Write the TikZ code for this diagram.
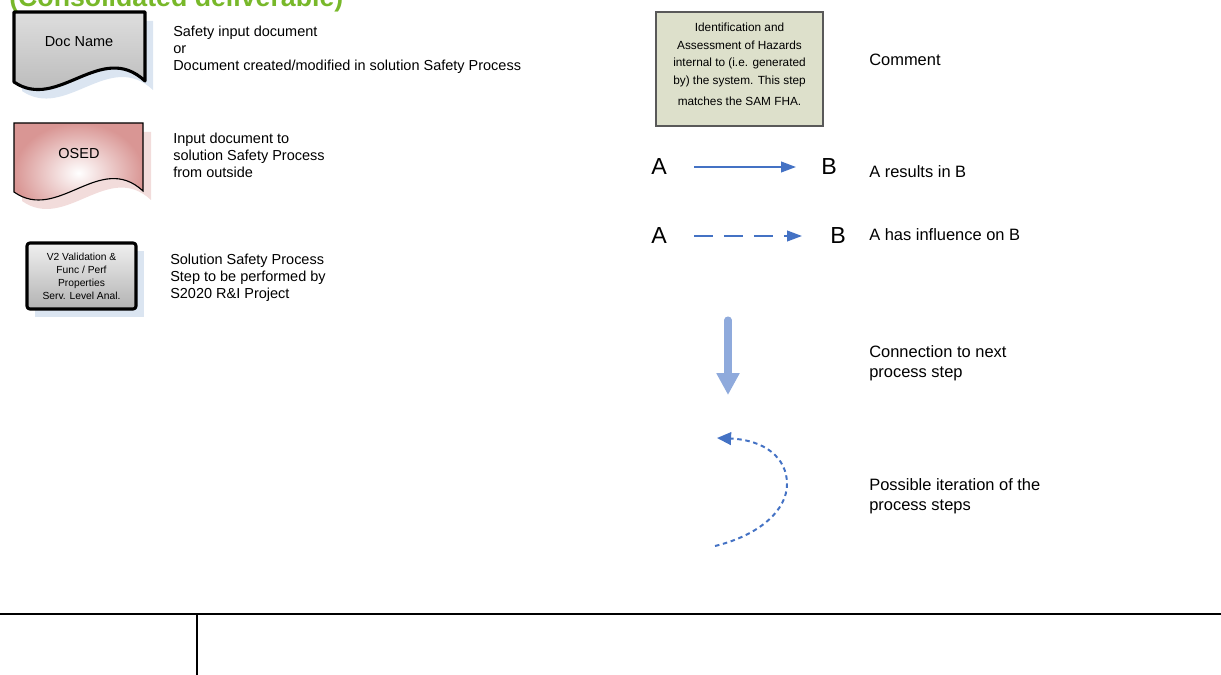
\documentclass[tikz,border=0pt]{standalone}
\usepackage{fontspec}
\setmainfont{Liberation Sans}
\usetikzlibrary{arrows.meta}

\definecolor{titlegreen}{RGB}{120,184,42}
\definecolor{shadowblue}{RGB}{219,229,241}
\definecolor{shadowpink}{RGB}{242,220,219}
\definecolor{osedpink}{RGB}{217,150,148}
\definecolor{commentfill}{RGB}{221,224,203}
\definecolor{linkblue}{RGB}{68,114,196}
\definecolor{stepblue}{RGB}{143,170,220}

\tikzset{
  legtext/.style={anchor=north west, inner sep=0pt, align=left,
    font=\fontsize{10.3}{12.1}\selectfont},
  keytext/.style={anchor=north west, inner sep=0pt, align=left,
    font=\fontsize{11.7}{14.2}\selectfont},
  endlabel/.style={inner sep=0pt, font=\fontsize{16.5}{18}\selectfont},
  docframe/.style={line width=2.2pt, line join=round},
  resultline/.style={draw=linkblue, line width=1.3pt,
    -{Triangle[length=10.5pt,width=7.5pt]}},
  influenceline/.style={resultline, dash pattern=on 13.5pt off 7.8pt},
  commentbox/.style={draw=black!65, line width=0.8pt, fill=commentfill,
    minimum width=4.175cm, minimum height=2.85cm, inner sep=0pt},
  commenttext/.style={inner sep=0pt, align=center,
    font=\fontsize{8.4}{12.6}\selectfont}
}

\begin{document}
\begin{tikzpicture}[x=0.025cm, y=-0.025cm]
  \useasboundingbox (0,0) rectangle (1221,675);
  \clip (0,0) rectangle (1221,675);

  % heading, cut off at the top edge
  \node[anchor=base west, inner sep=0pt, text=titlegreen,
        font=\fontsize{19}{22}\selectfont\bfseries] (heading) at (9,7)
        {(Consolidated deliverable)};

  % document symbol
  \begin{scope}[shift={(14,12)}]
    \fill[shadowblue, shift={(8,9)}]
      (0,0) -- (131,0) -- (131,69) .. controls (87,28) and (44,100) .. (0,70) -- cycle;
    \draw[docframe, top color=black!13, bottom color=black!30]
      (0,0) -- (131,0) -- (131,69) .. controls (87,28) and (44,100) .. (0,70) -- cycle;
    \node[font=\fontsize{10.3}{12}\selectfont] (docname) at (65,30) {Doc Name};
  \end{scope}
  \node[legtext] (doctext) at (173,25.5)
    {Safety input document\\or\\Document created/modified in solution Safety Process};

  % outside input document
  \begin{scope}[shift={(14,123)}]
    \fill[shadowpink, shift={(8,9)}]
      (0,0) -- (129,0) -- (129,68) .. controls (86,28) and (44,100) .. (0,69) -- cycle;
    \draw[line width=0.8pt, inner color=white, outer color=osedpink]
      (0,0) -- (129,0) -- (129,68) .. controls (86,28) and (44,100) .. (0,69) -- cycle;
    \node[font=\fontsize{10.3}{12}\selectfont] (osed) at (65,31) {OSED};
  \end{scope}
  \node[legtext] (osedtext) at (173,132.5)
    {Input document to\\solution Safety Process\\from outside};

  % process step
  \fill[shadowblue] (35,251) rectangle (144,317);
  \draw[docframe, rounded corners=2pt, top color=black!6, bottom color=black!30]
    (27,243) rectangle (136,309);
  \node[align=center, inner sep=0pt, font=\fontsize{7.3}{9.2}\selectfont] (stepname) at (81.5,276)
    {V2 Validation \&\\Func / Perf\\Properties\\Serv. Level Anal.};
  \node[legtext] (steptext) at (170,253.5)
    {Solution Safety Process\\Step to be performed by\\S2020 R\&I Project};

  % comment box
  \node[commentbox] (hazard) at (739.5,69) {};
  \node[commenttext] (hazardtext) at (739.5,64)
    {Identification and\\Assessment of Hazards\\internal to (i.e. generated\\by) the system. This step\\[2pt]matches the SAM FHA.};
  \node[keytext] (commentlbl) at (869,54) {Comment};

  % result link
  \node[endlabel] (resa) at (659,167) {A};
  \node[endlabel] (resb) at (829,167) {B};
  \draw[resultline, shorten <=0.675cm, shorten >=0.625cm] (resa) -- (resb);
  \node[keytext] (restext) at (869,165) {A results in B};

  % influence link
  \node[endlabel] (infa) at (659,236) {A};
  \node[endlabel] (infb) at (838,236) {B};
  \draw[influenceline, shorten <=0.675cm, shorten >=0.7cm] (infa) -- (infb);
  \node[keytext] (inftext) at (869,228) {A has influence on B};

  % next process step
  \coordinate (steptop) at (728,320);
  \coordinate (stepend) at (728,395);
  \draw[stepblue, line width=5pt, line cap=round,
        -{Triangle[length=15.5pt,width=15.5pt]}] (steptop) -- (stepend);
  \node[keytext] (nexttext) at (869,345) {Connection to next\\process step};

  % iteration loop
  \coordinate (loopstart) at (715,546);
  \coordinate (loopend) at (717,438);
  \draw[linkblue, line width=1.4pt, dash pattern=on 3.2pt off 2.6pt,
        -{Triangle[length=10pt,width=9pt]}]
    (loopstart) .. controls (760,535) and (787,510) .. (787,484)
    .. controls (787,458) and (765,440) .. (loopend);
  \node[keytext] (looptext) at (869,478) {Possible iteration of the\\process steps};

  % frame at the bottom
  \draw[line width=1.5pt] (0,614) -- (1221,614);
  \draw[line width=1.5pt] (197,614) -- (197,675);
\end{tikzpicture}
\end{document}
